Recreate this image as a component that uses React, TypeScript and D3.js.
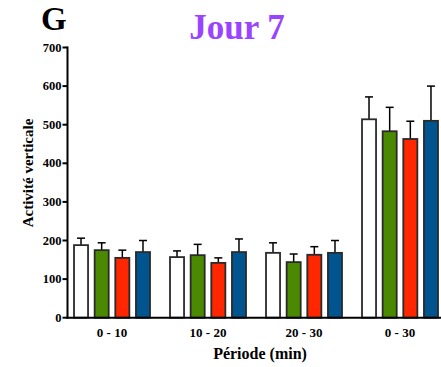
import React from "react";
import * as d3 from "d3";

const periods = ["0 - 10", "10 - 20", "20 - 30", "0 - 30"];
const seriesNames = ["S1", "S2", "S3", "S4"];
const seriesColors = ["#ffffff", "#4a8a00", "#ff2600", "#00548f"];
const means = [
  [188, 175, 155, 170],
  [157, 162, 142, 170],
  [168, 144, 163, 168],
  [514, 483, 463, 510],
];
const upperErr = [
  [206, 194, 175, 200],
  [173, 190, 155, 204],
  [194, 165, 184, 200],
  [572, 545, 509, 600],
];
const yTicks = [0, 100, 200, 300, 400, 500, 600, 700];

const FONT = "'Liberation Serif', 'Times New Roman', serif";

export default function App() {
  const W = 441, H = 367;
  const x0 = 67.5, yBase = 317.7, yTop = 47.5;
  const y = d3.scaleLinear().domain([0, 700]).range([yBase, yTop]);
  const xg = d3.scaleBand<string>().domain(periods).range([64, 448]).padding(0);
  const xs = d3.scaleBand<string>().domain(seriesNames).range([-38, 38]).paddingInner(0.32).paddingOuter(0);
  const bw = xs.bandwidth();
  const cap = 8;

  return (
    <svg width={W} height={H} style={{ position: "absolute", left: 0, top: 0 }} fontFamily={FONT}>
      <rect x={0} y={0} width={W} height={H} fill="#ffffff" />
      <text x={41} y={30} fontSize={33} fontWeight="bold" fill="#000">G</text>
      <text x={237} y={39} fontSize={35} fontWeight="bold" fill="#9a44ff" textAnchor="middle">Jour 7</text>

      {periods.map((p, gi) => {
        const cx = (xg(p) as number) + xg.bandwidth() / 2;
        return (
          <g key={p}>
            {seriesNames.map((s, si) => {
              const bx = cx + (xs(s) as number);
              const v = means[gi][si];
              const e = upperErr[gi][si];
              const mx = bx + bw / 2;
              return (
                <g key={s}>
                  <line x1={mx} x2={mx} y1={y(v)} y2={y(e)} stroke="#000" strokeWidth={1.5} />
                  <line x1={mx - cap / 2} x2={mx + cap / 2} y1={y(e)} y2={y(e)} stroke="#000" strokeWidth={1.5} />
                  <rect x={bx} y={y(v)} width={bw} height={yBase - y(v)} fill={seriesColors[si]} stroke="#2a2a2a" strokeWidth={1.8} />
                </g>
              );
            })}
            <text x={cx} y={336.5} fontSize={13} fontWeight="bold" textAnchor="middle" fill="#000">{p}</text>
          </g>
        );
      })}

      {/* y axis */}
      <line x1={x0} x2={x0} y1={yTop - 1} y2={yBase + 1} stroke="#000" strokeWidth={2} />
      {yTicks.map((t) => (
        <g key={t}>
          <line x1={x0 - 5} x2={x0} y1={y(t)} y2={y(t)} stroke="#000" strokeWidth={2} />
          <text x={x0 - 6} y={y(t)} dy="0.33em" fontSize={12.5} fontWeight="bold" textAnchor="end" fill="#000">{t}</text>
        </g>
      ))}
      {/* x axis */}
      <line x1={x0 - 1} x2={W} y1={yBase} y2={yBase} stroke="#000" strokeWidth={2} />

      <text transform={`translate(33,173) rotate(-90)`} fontSize={15} fontWeight="bold" textAnchor="middle" fill="#000">Activité verticale</text>
      <text x={260} y={359} fontSize={16} fontWeight="bold" textAnchor="middle" fill="#000">Période (min)</text>
    </svg>
  );
}
